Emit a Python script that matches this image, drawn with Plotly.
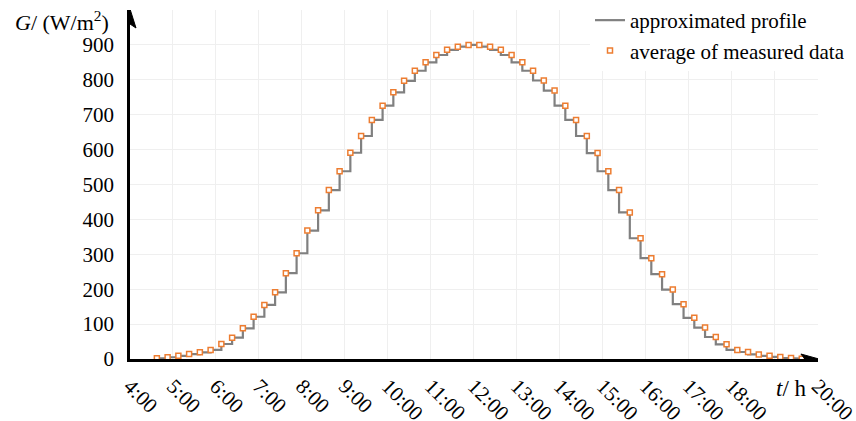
import plotly.graph_objects as go

# ---- data ----
time_h = [4.625 + 0.25 * k for k in range(61)]
irradiance = [2, 5, 9, 14, 19, 26, 43, 61, 88, 121,
              155, 191, 246, 303, 368, 426, 484, 538, 591, 639,
              685, 726, 764, 797, 826, 850, 871, 886, 895, 900,
              900, 895, 886, 871, 850, 826, 798, 769, 726, 685,
              639, 590, 538, 484, 420, 346, 289, 243, 199, 157,
              118, 90, 63, 42, 26, 20, 13, 9, 6, 3,
              1]
x_tick_vals = list(range(4, 21))
x_tick_text = [f"{h}:00" if h != 19 else "" for h in x_tick_vals]
y_tick_vals = list(range(0, 1001, 100))
y_tick_text = [str(v) for v in range(0, 901, 100)] + [""]

# approximated profile: step held at the lower of two neighbouring values
step_x, step_y = [], []
for i in range(len(time_h) - 1):
    lv = min(irradiance[i], irradiance[i + 1])
    step_x += [time_h[i], time_h[i], time_h[i + 1]]
    step_y += [irradiance[i], lv, lv]
step_x.append(time_h[-1])
step_y.append(irradiance[-1])

FONT = "Liberation Serif"
FS = 21

fig = go.Figure()
fig.add_trace(go.Scatter(
    x=step_x, y=step_y, mode="lines", name="approximated profile",
    line=dict(color="#808080", width=2.2), legendgroup="a"))
fig.add_trace(go.Scatter(
    x=time_h, y=irradiance, mode="markers", name="average of measured data",
    marker=dict(symbol="square", size=5, color="white",
                line=dict(color="#ED7D31", width=1.5)), legendgroup="b"))

fig.update_layout(
    width=856, height=421,
    margin=dict(l=130, r=38, t=10, b=62, autoexpand=False),
    paper_bgcolor="white", plot_bgcolor="white",
    font=dict(family=FONT, size=FS, color="black"),
    legend=dict(x=(590 - 130) / 688, xanchor="left", yref="container", y=1.03,
                yanchor="top", bgcolor="white", font=dict(size=FS, family=FONT),
                tracegroupgap=0, traceorder="grouped"),
    xaxis=dict(range=[4, 20.002], tickvals=x_tick_vals, ticktext=x_tick_text,
               tickangle=45, showgrid=True, gridcolor="#efefef", gridwidth=1,
               showline=True, linecolor="black", linewidth=2.5,
               zeroline=False, ticks="", ticklabelstandoff=4, automargin=False,
               ticklabeloverflow="allow",
               tickfont=dict(size=FS, family=FONT)),
    yaxis=dict(range=[0, 1000], tickvals=y_tick_vals, ticktext=y_tick_text,
               showgrid=True, gridcolor="#efefef", gridwidth=1,
               showline=True, linecolor="black", linewidth=2.5,
               zeroline=False, ticks="outside", ticklen=9,
               tickcolor="rgba(0,0,0,0)", automargin=False,
               tickfont=dict(size=FS, family=FONT)),
)

# arrowheads on axes
fig.add_shape(type="path", xref="x", yref="y", xsizemode="pixel", ysizemode="pixel",
              xanchor=20, yanchor=0, path="M 1,0 L -17,5 L -13,0 L -17,-5 Z",
              fillcolor="black", line=dict(color="black", width=1))
fig.add_shape(type="path", xref="x", yref="y", xsizemode="pixel", ysizemode="pixel",
              xanchor=4, yanchor=1000, path="M 0,1 L -6,-18 L 0,-14 L 6,-18 Z",
              fillcolor="black", line=dict(color="black", width=1))

fig.add_annotation(text="<i>G</i>/ (W/m<sup>2</sup>)", xref="paper", yref="paper",
                   x=-(131 - 112) / 688, y=(359 - 21) / 349, xanchor="right", yanchor="middle",
                   showarrow=False, font=dict(size=22, family=FONT))
fig.add_annotation(text="<i>t</i>/ h", xref="paper", yref="paper",
                   x=(791 - 130) / 688, y=-(388 - 359) / 349, xanchor="center", yanchor="middle",
                   showarrow=False, font=dict(size=23, family=FONT))

fig.write_html("out.html")
